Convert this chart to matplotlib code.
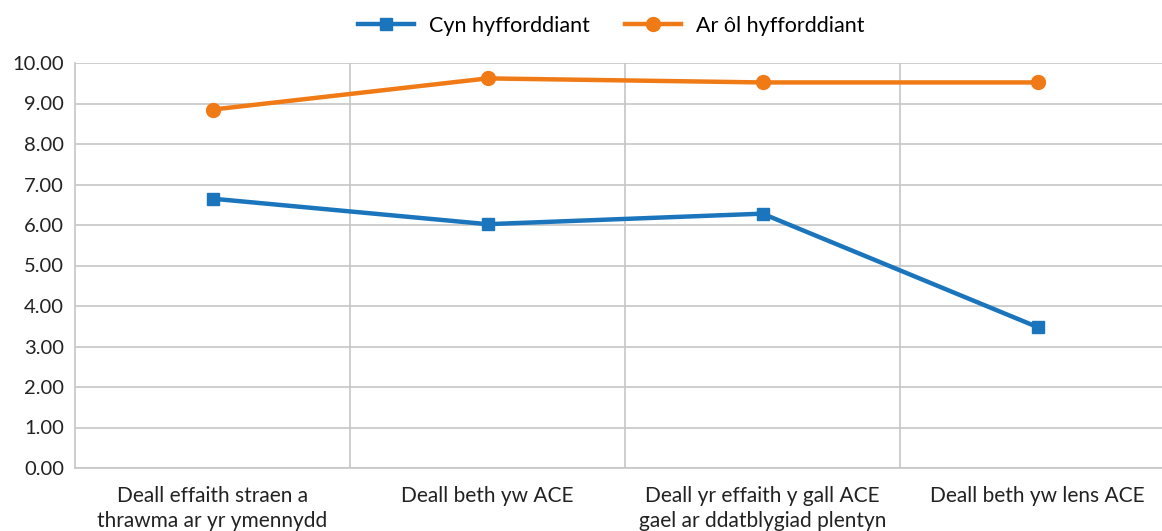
import matplotlib.pyplot as plt
import numpy as np

categories = [
    "Deall effaith straen a\nthrawma ar yr ymennydd",
    "Deall beth yw ACE",
    "Deall yr effaith y gall ACE\ngael ar ddatblygiad plentyn",
    "Deall beth yw lens ACE",
]
before = [6.65, 6.02, 6.28, 3.48]
after = [8.85, 9.62, 9.52, 9.52]
series_names = ["Cyn hyfforddiant", "Ar ôl hyfforddiant"]

plt.rcParams['font.family'] = ['Lato', 'DejaVu Sans']

fig = plt.figure(figsize=(11.62, 5.31), dpi=100)
W, H = 1162, 531
left, right, top, bottom = 75, 1175, 63, 468
ax = fig.add_axes([left / W, 1 - bottom / H, (right - left) / W, (bottom - top) / H])

x = np.arange(len(categories))
grid_c = "#c6c6c6"

ax.plot(x, before, color="#1a75bc", lw=3.2, marker="s", ms=9, label=series_names[0], zorder=3)
ax.plot(x, after, color="#ef7a16", lw=3.2, marker="o", ms=10, label=series_names[1], zorder=3)

ax.set_xlim(-0.5, len(categories) - 0.5)
ax.set_ylim(0, 10)
ax.set_yticks(np.arange(0, 11, 1))
ax.set_yticklabels([f"{v:.2f}" for v in range(11)])
ax.set_xticks(x)
ax.set_xticklabels(categories, linespacing=1.3)
ax.set_xticks(np.arange(0.5, len(categories) - 0.5, 1), minor=True)

ax.grid(axis="y", color=grid_c, lw=1.2)
ax.grid(axis="x", which="minor", color=grid_c, lw=1.2)
ax.set_axisbelow(True)

for s in ["top", "right"]:
    ax.spines[s].set_visible(False)
for s in ["left", "bottom"]:
    ax.spines[s].set_color(grid_c)
    ax.spines[s].set_linewidth(1.2)

ax.tick_params(axis="both", which="both", length=0, colors="#222222")
ax.tick_params(axis="x", labelsize=15, pad=13)
ax.tick_params(axis="y", labelsize=14.5, pad=8)

fig.legend(loc="upper center", bbox_to_anchor=(0.526, 1.007), ncol=2, frameon=False,
           fontsize=15.5, handlelength=2.6, handletextpad=0.7, columnspacing=1.6)

fig.savefig("out.png", dpi=100)
